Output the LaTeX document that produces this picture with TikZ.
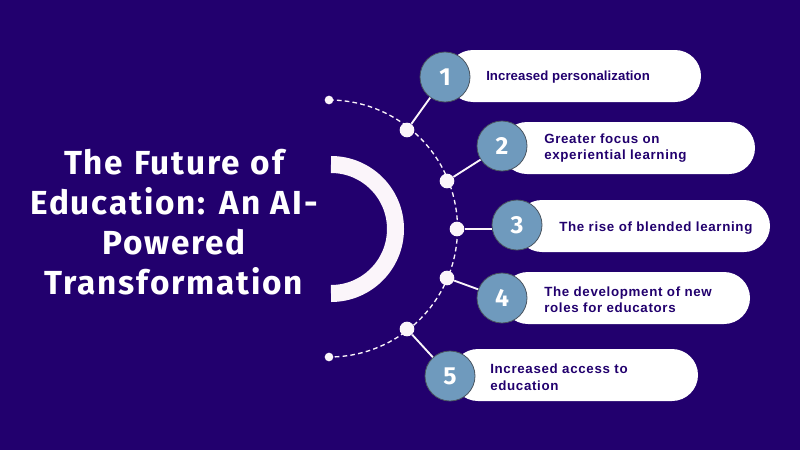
\documentclass[tikz,border=0pt]{standalone}
\usepackage{fontspec}
\setmainfont{Fira Sans}
\newfontfamily\titlefont[LetterSpace=5.5,WordSpace=1.1]{Fira Sans}
\newfontfamily\pillfont[LetterSpace=5]{Liberation Sans}
\newfontfamily\pilltight[LetterSpace=0.5]{Liberation Sans}
\definecolor{bgblue}{HTML}{22006E}
\definecolor{softwhite}{HTML}{FBF5FA}
\definecolor{steelblue}{HTML}{6F9ABD}
\definecolor{ringgrey}{HTML}{4A5560}
\tikzset{
	bigdot/.style={circle,fill=softwhite,inner sep=0pt,minimum size=11pt},
	enddot/.style={circle,fill=softwhite,inner sep=0pt,minimum size=6.5pt},
	pill/.style={fill=white,rounded corners=19.5pt,minimum width=#1*0.75pt,minimum height=39pt,inner sep=0pt},
	numcircle/.style={circle,draw=ringgrey,line width=0.6pt,fill=steelblue,text=white,inner sep=0pt,minimum size=37.5pt,font=\bfseries\fontsize{18.5}{20}\selectfont},
	pilltext/.style={anchor=west,align=left,inner sep=0pt,text=bgblue,font=\pillfont\bfseries\fontsize{10}{12.4}\selectfont},
	titletext/.style={align=center,inner sep=0pt,text=white,font=\titlefont\bfseries\fontsize{25}{30}\selectfont},
	link/.style={draw=softwhite,line width=1.4pt}
}
\begin{document}
\begin{tikzpicture}[x=0.75pt,y=0.75pt,yscale=-1,xscale=1]
	\fill [bgblue] (0,0) rectangle (800,450);
	% title and half ring
	\node (title) [titletext] at (174,222.5) {The Future of\\Education: An AI-\\Powered\\Transformation};
	\coordinate (ringTop) at (331,164.5);
	\draw [softwhite,line width=12.75pt] (ringTop) arc [start angle=-90,end angle=90,radius=64.5];
	% dashed arc
	\coordinate (arcTop) at (329,100);
	\draw [softwhite,line width=1pt,dash pattern=on 3.5pt off 2.4pt] (arcTop) arc [start angle=-90,end angle=90,radius=128.5];
	\node (endTop) [enddot] at (arcTop) {};
	\node (endBottom) [enddot] at (329,357) {};
	\node (dot1) [bigdot] at (407,130) {};
	\node (dot2) [bigdot] at (447,181) {};
	\node (dot3) [bigdot] at (457,229) {};
	\node (dot4) [bigdot] at (447,278) {};
	\node (dot5) [bigdot] at (407,329) {};
	% pills
	\node (pill1) [pill=254] at (574,76) {};
	\node (pill2) [pill=254] at (628,148) {};
	\node (pill3) [pill=254] at (643,226) {};
	\node (pill4) [pill=248] at (626,298) {};
	\node (pill5) [pill=246] at (575,375) {};
	% numbers
	\node (num1) [numcircle] at (445,77) {1};
	\node (num2) [numcircle] at (502,146) {2};
	\node (num3) [numcircle] at (517,225) {3};
	\node (num4) [numcircle] at (502,298) {4};
	\node (num5) [numcircle] at (450,376) {5};
	\draw [link] (dot1) -- (num1);
	\draw [link] (dot2) -- (num2);
	\draw [link] (dot3) -- (dot3 -| num3.west);
	\draw [link] (dot4) -- (num4);
	\draw [link] (dot5) -- (num5);
	% labels
	\node (text1) [pilltext,font=\pilltight\bfseries\fontsize{9.9}{12.4}\selectfont] at (486,77) {Increased personalization};
	\node (text2) [pilltext] at (544,148) {Greater focus on\\experiential learning};
	\node (text3) [pilltext] at (559,228) {The rise of blended learning};
	\node (text4) [pilltext] at (544,299.5) {The development of new\\roles for educators};
	\node (text5) [pilltext] at (490,377) {Increased access to\\education};
\end{tikzpicture}
\end{document}
